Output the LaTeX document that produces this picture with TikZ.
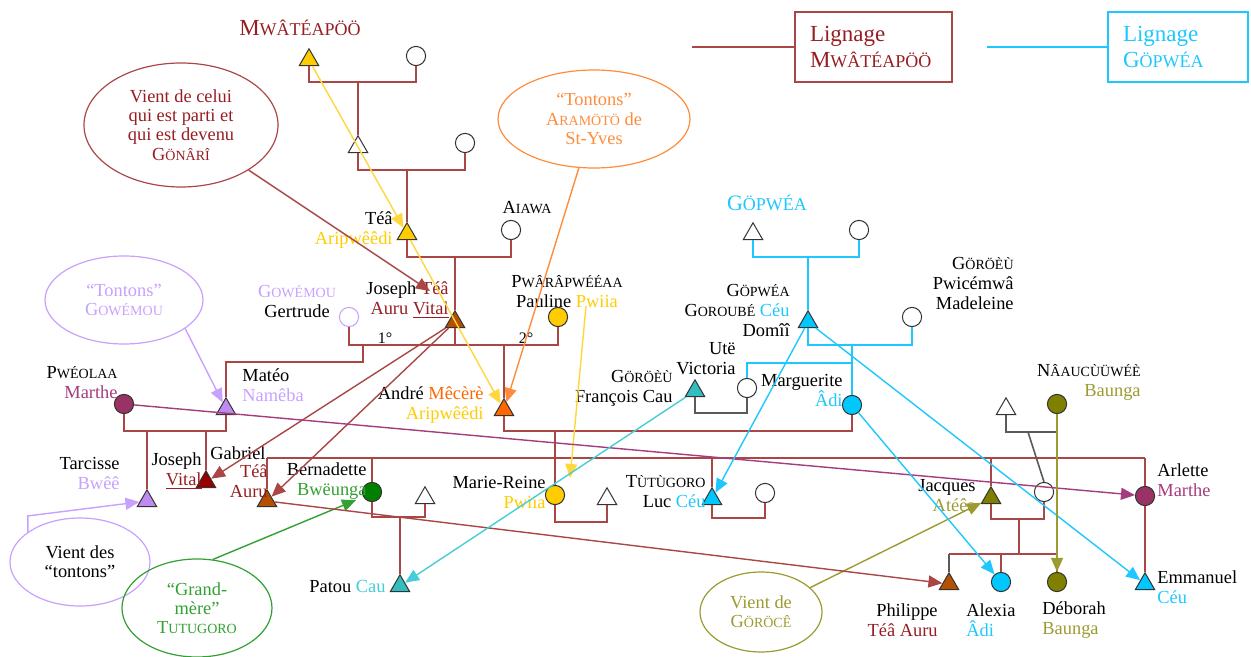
\documentclass[tikz,border=0pt]{standalone}
\usepackage{fontspec}
\setmainfont{Liberation Serif}
\usetikzlibrary{shapes.geometric,arrows.meta}

\definecolor{mwared}{RGB}{170,70,70}
\definecolor{mwatext}{RGB}{150,30,35}
\definecolor{gopcyan}{RGB}{30,200,255}
\definecolor{goldfill}{RGB}{255,204,0}
\definecolor{goldline}{RGB}{255,214,60}
\definecolor{orangefill}{RGB}{255,102,0}
\definecolor{orangeline}{RGB}{255,140,60}
\definecolor{lavline}{RGB}{200,160,255}
\definecolor{lavfill}{RGB}{190,140,240}
\definecolor{magfill}{RGB}{153,51,102}
\definecolor{magline}{RGB}{165,60,125}
\definecolor{brownfill}{RGB}{180,80,0}
\definecolor{darkredfill}{RGB}{150,0,0}
\definecolor{greenfill}{RGB}{0,128,0}
\definecolor{greenline}{RGB}{50,160,50}
\definecolor{tealfill}{RGB}{50,190,190}
\definecolor{tealline}{RGB}{70,205,215}
\definecolor{cyanfill}{RGB}{0,200,255}
\definecolor{olivefill}{RGB}{128,128,0}
\definecolor{oliveline}{RGB}{155,155,50}
\definecolor{greyline}{RGB}{90,90,90}

\newcommand\capsmall[2]{#1{\fontsize{7}{8}\selectfont #2}}
\newcommand\capbig[2]{#1{\fontsize{9}{10}\selectfont #2}}

\tikzset{
  man/.style={regular polygon, regular polygon sides=3, draw=black!80, fill=white, line width=0.5pt, minimum size=11.2pt, inner sep=0pt},
  woman/.style={circle, draw=black!80, fill=white, line width=0.5pt, minimum size=9.6pt, inner sep=0pt},
  kin/.style={draw=mwared, line width=0.8pt},
  kinc/.style={draw=gopcyan, line width=0.8pt},
  king/.style={draw=greyline, line width=0.8pt},
  lbl/.style={font=\fontsize{9.2}{10}\selectfont, inner sep=0pt},
  link/.style={line width=0.7pt, -{Triangle[length=7pt,width=6pt]}},
  bulle/.style={ellipse, draw, line width=0.6pt, inner sep=0pt, align=center, font=\fontsize{9.2}{9.6}\selectfont},
  lignage/.style={draw, line width=0.8pt, font=\fontsize{11.5}{13}\selectfont, align=left, inner xsep=7.5pt, minimum height=35pt}
}

\begin{document}
\begin{tikzpicture}[x=0.5pt, y=-0.5pt]
    \useasboundingbox (0,0) rectangle (1251,657);

    % lignage boxes
    \node[lignage, draw=mwared, text=mwatext, text width=63.5pt] (boxmwa) at (873.5,47) {Lignage\\\capbig{M}{WÂTÉAPÖÖ}};
    \node[lignage, draw=gopcyan, text=gopcyan, text width=55pt] (boxgop) at (1178,47) {Lignage\\\capbig{G}{ÖPWÉA}};
    \coordinate (lmwa) at (692,47);
    \coordinate (lgop) at (987,47);
    \draw[kin] (lmwa) -- (boxmwa);
    \draw[kinc] (lgop) -- (boxgop);

    % Mwateapoo people
    \node[lbl, font=\fontsize{11.5}{13}\selectfont, text=mwatext] (tmwa) at (300,28) {\capbig{M}{WÂTÉAPÖÖ}};
    \node[man, fill=goldfill] (mwa) at (309,60) {};
    \node[woman] (mwaw) at (416,56) {};
    \node[man] (gp1) at (358,147) {};
    \node[woman] (gp1w) at (465,143) {};
    \node[man, fill=goldfill] (tea) at (407,234) {};
    \node[woman] (aiawa) at (511,230) {};
    \node[man, fill=brownfill] (jos) at (455,322) {};
    \node[woman, draw=lavline] (gert) at (349,317) {};
    \node[woman, fill=goldfill] (paul) at (558,317) {};
    \node[man, fill=lavfill] (mateo) at (226,409) {};
    \node[woman, fill=magfill] (marthe) at (124,404) {};
    \node[man, fill=lavfill] (tarc) at (147,501) {};
    \node[man, fill=darkredfill] (josv) at (206,482) {};
    \node[man, fill=brownfill] (gab) at (267,501) {};
    \node[woman, fill=greenfill] (bern) at (372,492) {};
    \node[man] (bernh) at (425,498) {};
    \node[man, fill=tealfill] (patou) at (400,586) {};
    \node[man, fill=orangefill] (andre) at (504,410) {};
    \node[woman, fill=cyanfill] (marg) at (852,405) {};
    \node[woman, fill=goldfill] (mreine) at (555,495) {};
    \node[man] (mreineh) at (607,499) {};
    \node[man, fill=cyanfill] (luc) at (712,499) {};
    \node[woman] (lucw) at (765,493) {};
    \node[man, fill=olivefill] (jacq) at (991,498) {};
    \node[woman] (jacqw) at (1044,492) {};
    \node[woman, fill=magfill] (arlette) at (1145,496) {};
    \node[man, fill=cyanfill] (emm) at (1145,584) {};
    \node[man, fill=brownfill] (phil) at (949,584) {};
    \node[woman, fill=cyanfill] (alexia) at (1001,582) {};
    \node[woman, fill=olivefill] (deb) at (1057,582) {};
    \node[man] (baungh) at (1006,409) {};
    \node[woman, fill=olivefill] (baung) at (1057,404) {};

    % Gopwea people
    \node[lbl, font=\fontsize{11}{13}\selectfont, text=gopcyan] (tgop) at (767,203) {\capbig{G}{ÖPWÉA}};
    \node[man] (gtop) at (753,234) {};
    \node[woman] (gtopw) at (859,230) {};
    \node[man, fill=cyanfill] (domii) at (808,322) {};
    \node[woman] (madel) at (912,317) {};
    \node[man, fill=tealfill] (victoria) at (695,391) {};
    \node[woman] (utew) at (747,388) {};

    % names
    \node[lbl, anchor=east, align=right] (ltea) at (393,230) {Téâ\\\textcolor{goldfill}{Aripwêêdi}};
    \node[lbl] (laiawa) at (527,208) {\capsmall{A}{IAWA}};
    \node[lbl, anchor=east, align=right] (ljos) at (449,300) {Joseph \textcolor{mwatext}{Téâ}\\\textcolor{mwatext}{Auru \underline{Vital}}};
    \node[lbl, align=center] (lgert) at (297,301) {\textcolor{lavline}{\capsmall{G}{OWÉMOU}}\\Gertrude};
    \node[lbl, align=center] (lpaul) at (567,292) {\capsmall{P}{WÂRÂPWÉÉAA}\\Pauline \textcolor{goldfill}{Pwiia}};
    \node[lbl, font=\fontsize{8}{9}\selectfont] (lun) at (385,338) {1°};
    \node[lbl, font=\fontsize{8}{9}\selectfont] (ldeux) at (526,338) {2°};
    \node[lbl, anchor=east, align=right] (lmarthe) at (118,383) {\capsmall{P}{WÉOLAA}\\\textcolor{magline}{Marthe}};
    \node[lbl, anchor=west, align=left] (lmateo) at (242,385) {Matéo\\\textcolor{lavline}{Namêba}};
    \node[lbl, anchor=east, align=right] (ltarc) at (120,473) {Tarcisse\\\textcolor{lavline}{Bwêê}};
    \node[lbl, anchor=east, align=right] (ljosv) at (202,471) {Joseph\\\textcolor{mwatext}{\underline{Vital}}};
    \node[lbl] (lgab) at (238,453) {Gabriel};
    \node[lbl, anchor=east, align=right] (lgab2) at (268,481) {\textcolor{mwatext}{Téâ}\\\textcolor{mwatext}{Auru}};
    \node[lbl, anchor=east, align=right] (lbern) at (367,481) {Bernadette\\\textcolor{greenline}{Bwëunga}};
    \node[lbl, anchor=east] (lpatou) at (386,586) {Patou \textcolor{tealline}{Cau}};
    \node[lbl, anchor=east, align=right] (landre) at (484,405) {André \textcolor{orangefill}{Mêcèrè}\\\textcolor{goldfill}{Aripwêêdi}};
    \node[lbl, anchor=east, align=right] (lmreine) at (546,492) {Marie-Reine\\\textcolor{goldfill}{Pwiia}};
    \node[lbl, anchor=east, align=right] (lluc) at (706,492) {\capsmall{T}{ÙTÙGORO}\\Luc \textcolor{gopcyan}{Céu}};
    \node[lbl, anchor=east, align=right] (lfranc) at (673,388) {\capsmall{G}{ÖRÖÈÙ}\\François Cau};
    \node[lbl, anchor=east, align=right] (lvict) at (736,359) {Utë\\Victoria};
    \node[lbl, anchor=east, align=right] (lmarg) at (843,390) {Marguerite\\\textcolor{gopcyan}{Âdi}};
    \node[lbl, anchor=east, align=right] (ldomii) at (790,310) {\capsmall{G}{ÖPWÉA}\\\capsmall{G}{OROUBÉ} \textcolor{gopcyan}{Céu}\\Domîî};
    \node[lbl, anchor=east, align=right] (lmadel) at (1014,283) {\capsmall{G}{ÖRÖÈÙ}\\Pwicémwâ\\Madeleine};
    \node[lbl, anchor=east, align=right] (lbaung) at (1141,382) {\capsmall{N}{ÂAUCÙÜWÉÈ}\\\textcolor{oliveline}{Baunga}};
    \node[lbl, anchor=east, align=right] (ljacq) at (976,496) {Jacques\\\textcolor{oliveline}{Atéêa}};
    \node[lbl, anchor=west, align=left] (larl) at (1157,480) {Arlette\\\textcolor{magline}{Marthe}};
    \node[lbl, anchor=west, align=left] (lemm) at (1157,587) {Emmanuel\\\textcolor{gopcyan}{Céu}};
    \node[lbl, anchor=east, align=right] (lphil) at (938,620) {Philippe\\\textcolor{mwatext}{Téâ Auru}};
    \node[lbl, anchor=west, align=left] (lalex) at (966,620) {Alexia\\\textcolor{gopcyan}{Âdi}};
    \node[lbl, anchor=west, align=left] (ldeb) at (1042,620) {Déborah\\\textcolor{oliveline}{Baunga}};

    % bubbles
    \node[bulle, draw=mwared, text=mwatext, minimum width=97pt, minimum height=62pt] (ell1) at (181,125) {Vient de celui\\qui est parti et\\qui est devenu\\\capsmall{G}{ÖNÂRÎ}};
    \node[bulle, draw=orangeline, text=orangeline, minimum width=96pt, minimum height=49pt] (ell2) at (594,119) {“Tontons”\\\capsmall{A}{RAMÖTÖ} de\\St-Yves};
    \node[bulle, draw=lavline, text=lavline, minimum width=79pt, minimum height=44pt] (ell3) at (124,300) {“Tontons”\\\capsmall{G}{OWÉMOU}};
    \node[bulle, draw=lavline, text=black, minimum width=70pt, minimum height=44pt] (ell4) at (80,562) {Vient des\\“tontons”};
    \node[bulle, draw=greenline, text=greenline, minimum width=75pt, minimum height=49pt] (ell5) at (197,608) {“Grand-\\mère”\\\capsmall{T}{UTUGORO}};
    \node[bulle, draw=oliveline, text=oliveline, minimum width=61pt, minimum height=40pt] (ell6) at (761,612) {Vient de\\\capsmall{G}{ÖRÖCÊ}};

    % families Mwateapoo
    \coordinate (f1) at (358,82);
    \draw[kin] (mwa.south) |- (f1) -| (mwaw.south);
    \draw[kin] (f1) -- (gp1.north);
    \coordinate (f2) at (407,170);
    \draw[kin] (gp1.south) |- (f2) -| (gp1w.south);
    \draw[kin] (f2) -- (tea.north);
    \coordinate (f3) at (455,257);
    \draw[kin] (tea.south) |- (f3) -| (aiawa.south);
    \draw[kin] (f3) -- (jos.north);
    \coordinate (f4) at (455,345);
    \draw[kin] (gert.south) |- (f4) -| (paul.south);
    \draw[kin] (jos.south) -- (f4);
    \coordinate (f4a) at (363,345);
    \draw[kin] (f4a) -- ++(0,17) -| (mateo.north);
    \coordinate (f4b) at (504,345);
    \draw[kin] (f4b) -- (andre.north);
    \coordinate (f5) at (180,431);
    \draw[kin] (marthe.south) |- (f5) -| (mateo.south);
    \draw[kin] (tarc.north) -- (tarc.north |- f5);
    \draw[kin] (josv.north) -- (josv.north |- f5);
    \coordinate (f6) at (555,431);
    \draw[kin] (andre.south) |- (f6) -| (marg.south);
    \draw[kin] (f6) -- (mreine.north);
    \coordinate (s6a) at (267,458);
    \coordinate (s6b) at (1145,458);
    \draw[kin] (s6a) -- (s6b);
    \draw[kin] (gab.north) -- (s6a);
    \draw[kin] (bern.north) -- (bern.north |- s6a);
    \draw[kin] (luc.north) -- (luc.north |- s6a);
    \draw[kin] (jacq.north) -- (jacq.north |- s6a);
    \draw[kin] (arlette.north) -- (s6b);
    \coordinate (f7) at (400,517);
    \draw[kin] (bern.south) |- (f7) -| (bernh.south);
    \draw[kin] (f7) -- (patou.north);
    \coordinate (f8) at (580,522);
    \draw[kin] (mreine.south) |- (f8) -| (mreineh.south);
    \coordinate (f9) at (740,518);
    \draw[kin] (luc.south) |- (f9) -| (lucw.south);
    \coordinate (f10) at (1019,519);
    \draw[kin] (jacq.south) |- (f10) -| (jacqw.south);
    \coordinate (s10a) at (949,554);
    \coordinate (s10b) at (1057,554);
    \draw[kin] (f10) -- (f10 |- s10a);
    \draw[kin] (s10a) -- (s10b);
    \draw[king] (s10a) -- (phil.north);
    \draw[kin] (alexia.north) -- (alexia.north |- s10a);
    \draw[kin] (s10b) -- (deb.north);
    \draw[kin] (arlette.south) -- (emm.north);
    \coordinate (f11) at (1028,432);
    \draw[king] (baungh.south) |- (f11) -| (baung.south);
    \draw[king] (f11) -- (jacqw.north);

    % families Gopwea
    \coordinate (f12) at (808,257);
    \draw[kinc] (gtop.south) |- (f12) -| (gtopw.south);
    \draw[kinc] (f12) -- (domii.north);
    \coordinate (f13) at (852,345);
    \draw[kinc] (domii.south) |- (f13) -| (madel.south);
    \draw[kinc] (f13) -- (marg.north);
    \coordinate (s13) at (852,363);
    \draw[kinc] (s13) -| (utew.north);
    \coordinate (f14) at (721,413);
    \draw[king] (victoria.south) |- (f14) -| (utew.south);

    % who the name comes from
    \coordinate (tjos) at (430,291);
    \draw[link, mwared] (ell1) -- (tjos);
    \draw[link, orangeline] (ell2) -- (andre);
    \draw[link, lavline] (ell3.-25) -- (mateo);
    \draw[link, lavline] (ell4.150) -- ++(0,-16) -- (tarc);
    \coordinate (tbern) at (356,500);
    \draw[link, greenline] (ell5.72) -- (tbern);
    \draw[link, oliveline] (ell6) -- (jacq);
    \draw[link, goldline] (mwa) -- (tea);
    \draw[link, goldline] (tea) -- (andre);
    \coordinate (spw) at (586,306);
    \coordinate (tpw) at (570,478);
    \draw[link, goldline] (spw) -- (tpw);
    \draw[link, mwared] (jos) -- (josv);
    \draw[link, mwared] (jos) -- (gab);
    \draw[link, mwared] (gab) -- (phil);
    \draw[link, magline] (marthe) -- (arlette);
    \draw[link, tealline] (victoria) -- (patou);
    \draw[link, gopcyan] (domii) -- (luc);
    \draw[link, gopcyan] (domii) -- (emm);
    \draw[link, gopcyan] (marg) -- (alexia);
    \draw[link, oliveline] (baung) -- (deb);
\end{tikzpicture}
\end{document}
